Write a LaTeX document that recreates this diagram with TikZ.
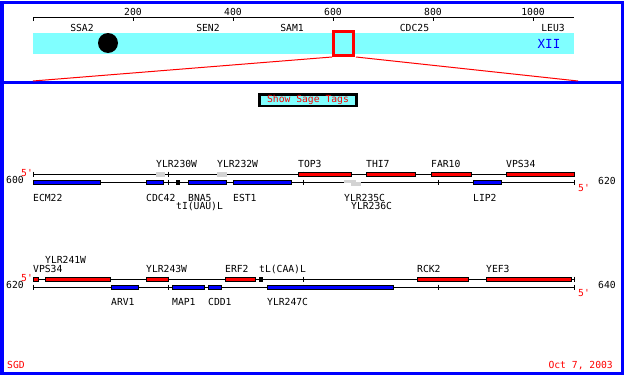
\documentclass[tikz,border=0pt]{standalone}
\usepackage{fontspec}
\newfontfamily\pixfont{DejaVu Sans Mono}
\definecolor{sgdcyan}{HTML}{80FFFF}
\definecolor{sgdgray}{HTML}{D3D3D3}
\begin{document}
\begin{tikzpicture}[x=1pt,y=-1pt,
  lbl/.style={inner sep=0pt, font=\pixfont\fontsize{9.7}{10}\selectfont, anchor=base west},
  clbl/.style={lbl, anchor=base},
  rlbl/.style={lbl, text=red},
  strand/.style={line width=0.75pt},
  wgene/.style={draw=black, line width=0.75pt, fill=red},
  cgene/.style={draw=black, line width=0.75pt, fill=blue},
  trna/.style={fill=black},
  pseudo/.style={fill=sgdgray},
  frameline/.style={draw=blue, line width=3pt},
  zoomline/.style={draw=red, line width=1pt},
]
\useasboundingbox (0,0) rectangle (625,375);
% frame
\draw[frameline] (2,2.5) rectangle (622.5,373);
\draw[frameline] (2,82) -- (622.5,82);

% ---------- top panel: chromosome overview ----------
\draw[strand] (33,21) -- (33,17) -- (574,17);
\foreach \p/\x in {200/133,400/233,600/333,800/433,1000/533}{
  \draw[strand] (\x,17) -- (\x,21);
  \node[clbl] (s\p) at (\x,15.7) {\p};
}
\fill[sgdcyan] (33,33) rectangle (574,54);
\node[clbl] (ssa2) at (82,31.5) {SSA2};
\node[clbl] (sen2) at (208,31.5) {SEN2};
\node[clbl] (sam1) at (292,31.5) {SAM1};
\node[clbl] (cdc25) at (414.5,31.5) {CDC25};
\node[clbl] (leu3) at (553,31.5) {LEU3};
\node[clbl, text=blue, font=\pixfont\fontsize{12.5}{13}\selectfont] (chr) at (549,48.3) {XII};
\fill[black] (108,43) circle (10);
\draw[red, line width=3.5pt] (333.7,31.3) rectangle (353.7,55.3);
\coordinate (zl0) at (33,81);
\coordinate (zl1) at (332,57);
\coordinate (zr1) at (356,57);
\coordinate (zr0) at (578,81);
\draw[zoomline] (zl0) -- (zl1);
\draw[zoomline] (zr1) -- (zr0);

% ---------- button ----------
\node[draw=black, line width=2.5pt, fill=sgdcyan, minimum width=97pt, minimum height=11.5pt,
      inner sep=0pt, text=red, font=\pixfont\fontsize{9.7}{10}\selectfont] (sage) at (308,100) {Show Sage Tags};

% ---------- row 1 : 600 - 620 ----------
\draw[strand] (33,171.5) -- (33,176.5);
\draw[strand] (33,174) -- (574,174);
\draw[strand] (33,182) -- (574,182);
\foreach \x in {168,303,438,574}{
  \draw[strand] (\x,171.5) -- (\x,176.5);
  \draw[strand] (\x,179.5) -- (\x,184.5);
}
% Watson
\fill[pseudo] (156,171.7) rectangle (165,176.7);
\fill[pseudo] (217,171.7) rectangle (227,176.7);
\filldraw[wgene] (298,172.5) rectangle (351,176.5);
\filldraw[wgene] (366,172.5) rectangle (415,176.5);
\filldraw[wgene] (431,172.5) rectangle (471,176.5);
\filldraw[wgene] (506,172.5) rectangle (574,176.5);
% Crick
\filldraw[cgene] (33,180.5) rectangle (100,184.5);
\filldraw[cgene] (146,180.5) rectangle (163,184.5);
\fill[trna] (176,180) rectangle (180,184.7);
\filldraw[cgene] (188,180.5) rectangle (226,184.5);
\filldraw[cgene] (233,180.5) rectangle (291,184.5);
\fill[pseudo] (344,179.7) rectangle (356,183.3);
\fill[pseudo] (351,182.3) rectangle (361,186.3);
\filldraw[cgene] (473,180.5) rectangle (501,184.5);
% labels
\node[lbl] (ylr230w) at (156,167) {YLR230W};
\node[lbl] (ylr232w) at (217,167) {YLR232W};
\node[lbl] (top3) at (298,167) {TOP3};
\node[lbl] (thi7) at (366,167) {THI7};
\node[lbl] (far10) at (431,167) {FAR10};
\node[lbl] (vps34a) at (506,167) {VPS34};
\node[lbl] (ecm22) at (33,201) {ECM22};
\node[lbl] (cdc42) at (146,201) {CDC42};
\node[lbl] (bna5) at (188,201) {BNA5};
\node[lbl] (est1) at (233,201) {EST1};
\node[lbl] (ylr235c) at (344,201) {YLR235C};
\node[lbl] (lip2) at (473,201) {LIP2};
\node[lbl] (tiuaul) at (176,209.5) {tI(UAU)L};
\node[lbl] (ylr236c) at (351,209.5) {YLR236C};
\node[rlbl] (p5a) at (21,176) {5'};
\node[lbl] (n600) at (6,183.5) {600};
\node[rlbl] (p5b) at (578,191) {5'};
\node[lbl] (n620a) at (598,184) {620};

% ---------- row 2 : 620 - 640 ----------
\draw[strand] (33,279) -- (574,279);
\draw[strand] (33,284.5) -- (33,289.5);
\draw[strand] (33,287) -- (574,287);
\foreach \x in {168,303,438,574}{
  \draw[strand] (\x,276.5) -- (\x,281.5);
  \draw[strand] (\x,284.5) -- (\x,289.5);
}
% Watson
\filldraw[wgene] (33.5,277) rectangle (38,281);
\filldraw[wgene] (45,277) rectangle (110,281);
\filldraw[wgene] (146,277) rectangle (168,281);
\filldraw[wgene] (225,277) rectangle (255,281);
\fill[trna] (259,277) rectangle (263,281.7);
\filldraw[wgene] (417,277) rectangle (468,281);
\filldraw[wgene] (486,277) rectangle (571,281);
% Crick
\filldraw[cgene] (111,285) rectangle (138,289);
\filldraw[cgene] (172,285) rectangle (204,289);
\filldraw[cgene] (208,285) rectangle (221,289);
\filldraw[cgene] (267,285) rectangle (393,289);
% labels
\node[lbl] (ylr241w) at (45,263) {YLR241W};
\node[lbl] (vps34b) at (33,272) {VPS34};
\node[lbl] (ylr243w) at (146,272) {YLR243W};
\node[lbl] (erf2) at (225,272) {ERF2};
\node[lbl] (tlcaal) at (259,272) {tL(CAA)L};
\node[lbl] (rck2) at (417,272) {RCK2};
\node[lbl] (yef3) at (486,272) {YEF3};
\node[lbl] (arv1) at (111,305.5) {ARV1};
\node[lbl] (map1) at (172,305.5) {MAP1};
\node[lbl] (cdd1) at (208,305.5) {CDD1};
\node[lbl] (ylr247c) at (267,305.5) {YLR247C};
\node[rlbl] (p5c) at (21,281.5) {5'};
\node[lbl] (n620b) at (6,288.5) {620};
\node[rlbl] (p5d) at (578,296) {5'};
\node[lbl] (n640) at (598,288) {640};

% ---------- footer ----------
\node[rlbl] (sgd) at (7,368) {SGD};
\node[rlbl, anchor=base east] (date) at (613,368.5) {Oct 7, 2003};
\end{tikzpicture}
\end{document}
